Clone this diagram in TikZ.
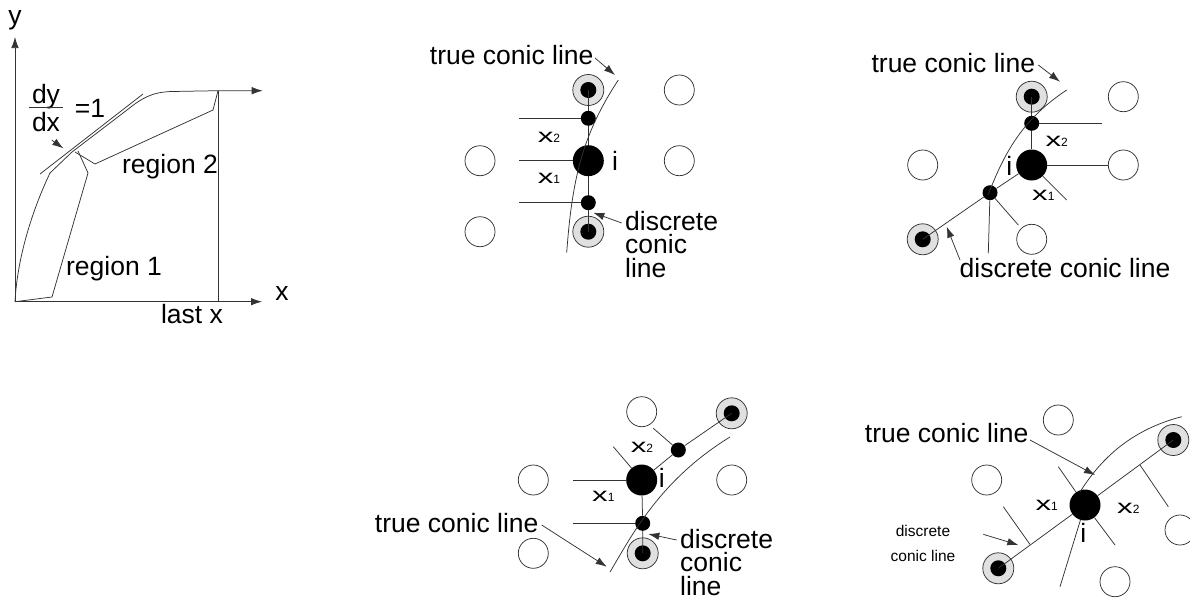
\documentclass[tikz,border=0pt]{standalone}
\usepackage{fontspec}
\setmainfont{Liberation Sans}
\usepackage{graphicx}
\usetikzlibrary{arrows.meta}

% wide x with a small digit index
\newcommand{\xidx}[1]{{\fontsize{19.5}{19.5}\selectfont\scalebox{1.6}[1]{x}}{\fontsize{12}{12}\selectfont #1}}

\tikzset{
  wire/.style={draw=black!80, line width=0.75pt},
  pointer/.style={wire, -{Latex[length=11pt,width=7.5pt]}},
  site/.style={circle, draw=black!80, line width=0.75pt, minimum size=30pt, inner sep=0pt},
  ring/.style={circle, draw=black!80, line width=0.75pt, fill=black!12, minimum size=31pt, inner sep=0pt,
    path picture={\fill[black] (path picture bounding box.center) circle (8pt);}},
  bigdot/.style={circle, fill=black, minimum size=31pt, inner sep=0pt},
  dot/.style={circle, fill=black, minimum size=15pt, inner sep=0pt},
  lbl/.style={font=\fontsize{26.5}{23.5}\selectfont, inner sep=0pt},
  small/.style={font=\fontsize{15.5}{25}\selectfont, inner sep=0pt},
  idx/.style={inner sep=0pt},
}

\begin{document}
\begin{tikzpicture}[x=1pt,y=-1pt]
\useasboundingbox (0,0) rectangle (1190,605);

% ---------------- graph: y against x ----------------
\coordinate (O) at (15,301.7);
\coordinate (ytip) at (15,37);
\coordinate (xtip) at (262,301.7);
\coordinate (lastx) at (218,301.7);
\coordinate (lasttop) at (218,90.7);
\draw[pointer] (O) -- (ytip);
\draw[pointer] (O) -- (xtip);
\draw[wire] (lastx) -- (lasttop);
\draw[pointer] (O) .. controls (17,262) and (30,215) .. (50,173) -- (72,152) -- (127,110)
  .. controls (142,98) and (152,92) .. (172,91.5) -- (lasttop) -- (262.7,90.7);
% tangent with slope one
\draw[wire] (40,174) -- (143,94);
% region brackets
\draw[wire] (O) -- (52,297) -- (88,173) -- (78,151);
\draw[wire] (75,152) -- (95,164) -- (213,110) -- (lasttop);
\node[lbl, anchor=base] (ylab) at (15,24) {y};
\node[lbl, anchor=base] (xlab) at (282,300) {x};
\node[lbl, anchor=base] (lastlab) at (192,323) {last x};
\node[lbl, anchor=base] (reg2) at (170,173) {region 2};
\node[lbl, anchor=base] (reg1) at (114,275) {region 1};
\node[lbl, anchor=base] (dy) at (46,103) {dy};
\node[lbl, anchor=base] (dx) at (46,131.7) {dx};
\draw[wire] (29.3,107.7) -- (62.7,107.7);
\node[lbl, anchor=base] (eq1) at (90,117) {=1};
\coordinate (slopeA) at (51.7,140);
\coordinate (slopeB) at (63.3,148.3);
\draw[pointer] (slopeA) -- (slopeB);

% ---------------- panel B: vertical stencil ----------------
\node[site] (sB1) at (480,160.7) {};
\node[site] (sB2) at (480,231.7) {};
\node[site] (sB3) at (679.3,90) {};
\node[site] (sB4) at (679.3,160.7) {};
\node[ring] (rBt) at (588.3,90) {};
\node[ring] (rBb) at (588.3,231.7) {};
\node[dot] (dBu) at (588.3,118.3) {};
\node[bigdot] (bB) at (588.3,160.7) {};
\node[dot] (dBd) at (588.3,202.7) {};
\coordinate (hB1) at (519.3,118.3);
\coordinate (hB2) at (519.3,160.7);
\coordinate (hB3) at (519.3,202.7);
\draw[wire] (rBt.center) -- (dBu) -- (bB) -- (dBd) -- (rBb.center);
\draw[wire] (hB1) -- (dBu);
\draw[wire] (hB2) -- (bB);
\draw[wire] (hB3) -- (dBd);
\draw[wire] (566.7,252.7) .. controls (572,180) and (582,135) .. (618.3,80);
\node[lbl] (tB) at (511.7,55) {true conic line};
\coordinate (tBa) at (595,58);
\coordinate (tBb) at (615,75);
\draw[pointer] (tBa) -- (tBb);
\node[lbl, anchor=north west, align=left] (cB) at (625,211) {discrete\\conic\\line};
\coordinate (cBa) at (621.7,223);
\coordinate (cBb) at (593.3,212.7);
\draw[pointer] (cBa) -- (cBb);
\node[idx] (xB2) at (549,137) {\xidx{2}};
\node[idx] (xB1) at (549,178.3) {\xidx{1}};
\node[lbl] (iB) at (615,160.7) {i};

% ---------------- panel C: bent stencil ----------------
\node[site] (sC1) at (1123.3,96.7) {};
\node[site] (sC2) at (922.7,165) {};
\node[site] (sC3) at (1123.3,165) {};
\node[site] (sC4) at (1031.7,239.3) {};
\node[ring] (rCt) at (1031.7,96.7) {};
\node[ring] (rCl) at (922.7,239.3) {};
\node[dot] (dCu) at (1031.7,123.3) {};
\node[bigdot] (bC) at (1031.7,165) {};
\node[dot] (dCl) at (990,192.7) {};
\coordinate (hC1) at (1101.7,123.3);
\coordinate (hC2) at (1066.7,200);
\coordinate (hC3) at (988.3,253.3);
\coordinate (hC4) at (1018.3,225);
\draw[wire] (rCt.center) -- (dCu) -- (bC);
\draw[wire] (bC) -- (dCl) -- (rCl.center);
\draw[wire] (dCu) -- (hC1);
\draw[wire] (bC) -- (sC3);
\draw[wire] (bC) -- (hC2);
\draw[wire] (dCl) -- (hC3);
\draw[wire] (dCl) -- (hC4);
\draw[wire] (988,195) .. controls (1002,160) and (1018,122) .. (1066.7,90);
\node[lbl] (tC) at (953.3,63.3) {true conic line};
\coordinate (tCa) at (1038.3,65);
\coordinate (tCb) at (1060,81.7);
\draw[pointer] (tCa) -- (tCb);
\node[lbl] (cC) at (1065,268.3) {discrete conic line};
\coordinate (cCa) at (960,260);
\coordinate (cCb) at (946.7,226.7);
\draw[pointer] (cCa) -- (cCb);
\node[idx] (xC2) at (1056.7,141.7) {\xidx{2}};
\node[idx] (xC1) at (1043.3,195) {\xidx{1}};
\node[lbl] (iC) at (1009.3,166) {i};

% ---------------- panel D: shifted stencil ----------------
\node[site] (sD1) at (641.7,411.7) {};
\node[site] (sD2) at (533.3,480) {};
\node[site] (sD3) at (731.7,480) {};
\node[site] (sD4) at (533.3,553.3) {};
\node[ring] (rDt) at (731.7,413.3) {};
\node[ring] (rDb) at (642.7,553.3) {};
\node[dot] (dDu) at (678.3,450) {};
\node[bigdot] (bD) at (641.7,480) {};
\node[dot] (dDd) at (642.7,523.3) {};
\coordinate (hD1) at (653.3,428.3);
\coordinate (hD2) at (613.3,446.7);
\coordinate (hD3) at (573.3,480);
\coordinate (hD4) at (573.3,523.3);
\draw[wire] (bD) -- (dDu) -- (rDt.center);
\draw[wire] (dDu) -- (hD1);
\draw[wire] (bD) -- (hD2);
\draw[wire] (bD) -- (hD3);
\draw[wire] (bD) -- (dDd) -- (rDb.center);
\draw[wire] (dDd) -- (hD4);
\draw[wire] (610,572) .. controls (632,535) and (660,480) .. (730,437);
\node[lbl] (tD) at (456.7,523.3) {true conic line};
\coordinate (tDa) at (541.7,525);
\coordinate (tDb) at (606.7,566.7);
\draw[pointer] (tDa) -- (tDb);
\node[lbl, anchor=north west, align=left] (cD) at (680,529) {discrete\\conic\\line};
\coordinate (cDa) at (676.7,540);
\coordinate (cDb) at (648.3,534);
\draw[pointer] (cDa) -- (cDb);
\node[idx] (xD2) at (642,447) {\xidx{2}};
\node[idx] (xD1) at (603.3,496.5) {\xidx{1}};
\node[lbl] (iD) at (661.7,478.3) {i};

% ---------------- panel E: diagonal stencil ----------------
\node[site] (sE1) at (1058.3,420) {};
\node[site] (sE2) at (986.7,480) {};
\node[site] (sE3) at (1180,530) {};
\node[site] (sE4) at (1115,581.7) {};
\node[ring] (rEr) at (1173.3,440) {};
\node[ring] (rEl) at (998.3,568.3) {};
\node[bigdot] (bE) at (1085,505) {};
\coordinate (kE1a) at (1030,544.5);
\coordinate (kE1b) at (1003.3,506.7);
\coordinate (kE2a) at (1140,465);
\coordinate (kE2b) at (1168.3,506.7);
\coordinate (hE1) at (1058.3,466.7);
\coordinate (hE2) at (1115,545);
\coordinate (hE3) at (1060,586.7);
\draw[wire] (rEl.center) -- (bE) -- (rEr.center);
\draw[wire] (kE1a) -- (kE1b);
\draw[wire] (kE2a) -- (kE2b);
\draw[wire] (bE) -- (hE1);
\draw[wire] (bE) -- (hE2);
\draw[wire] (bE) -- (hE3);
\draw[wire] (1080,492) .. controls (1100,460) and (1130,430) .. (1181.7,416.7);
\node[lbl] (tE) at (946.7,433.3) {true conic line};
\coordinate (tEa) at (1030,440);
\coordinate (tEb) at (1095,475);
\draw[pointer] (tEa) -- (tEb);
\node[small, align=center] (cE) at (923,543) {discrete\\conic line};
\coordinate (cEa) at (983.3,534.3);
\coordinate (cEb) at (1018.3,545);
\draw[pointer] (cEa) -- (cEb);
\node[idx] (xE1) at (1046.7,505) {\xidx{1}};
\node[idx] (xE2) at (1128.3,508.3) {\xidx{2}};
\node[lbl] (iE) at (1083.3,533.3) {i};
\end{tikzpicture}
\end{document}
